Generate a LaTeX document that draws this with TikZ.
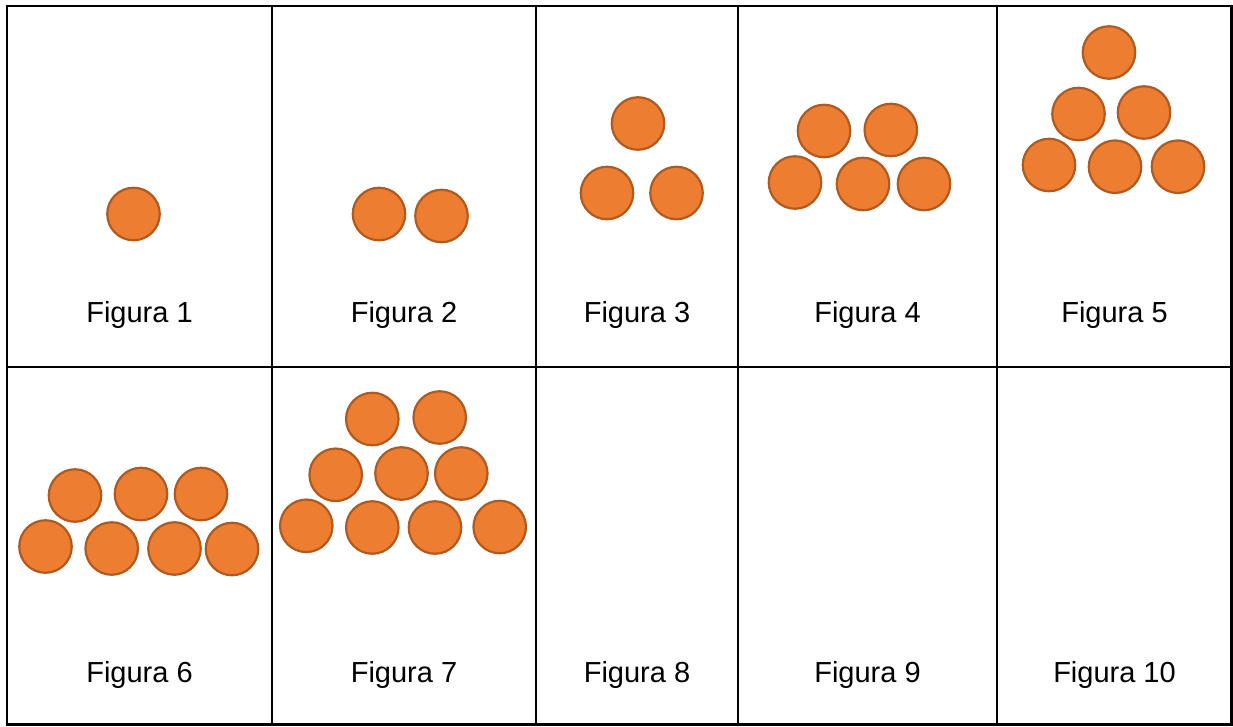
\documentclass[tikz,border=0pt]{standalone}
\usepackage{fontspec}
\setmainfont{Liberation Sans}
\definecolor{ballfill}{HTML}{ED7D31}
\definecolor{ballline}{HTML}{AE5A21}
\tikzset{
  ball/.style={circle, draw=ballline, fill=ballfill, line width=2.2pt, minimum size=52.5pt, inner sep=0pt},
  grid/.style={draw=black, line width=2.2pt},
  lbl/.style={anchor=base, inner sep=0pt, font=\fontsize{29}{34}\selectfont}
}
\begin{document}
\begin{tikzpicture}[x=1pt,y=-1pt]
\useasboundingbox (0,0) rectangle (1233,726);
% grid
\draw[grid] (7,6) rectangle (1231.5,724.5);
\draw[grid] (7,367) -- (1231.5,367);
\foreach \cx in {272,536,738,997} \draw[grid] (\cx,6) -- (\cx,724.5);
% labels
\node[lbl] (l1) at (139.5,322) {Figura 1};
\node[lbl] (l2) at (404,322) {Figura 2};
\node[lbl] (l3) at (637,322) {Figura 3};
\node[lbl] (l4) at (867.5,322) {Figura 4};
\node[lbl] (l5) at (1114.5,322) {Figura 5};
\node[lbl] (l6) at (139.5,682) {Figura 6};
\node[lbl] (l7) at (404,682) {Figura 7};
\node[lbl] (l8) at (637,682) {Figura 8};
\node[lbl] (l9) at (867.5,682) {Figura 9};
\node[lbl] (l10) at (1114.5,682) {Figura 10};
% Figura 1
\node[ball] (a1) at (133.5,214) {};
% Figura 2
\node[ball] (b1) at (379,214) {};
\node[ball] (b2) at (441.5,216) {};
% Figura 3
\node[ball] (c1) at (638,123.5) {};
\node[ball] (c2) at (607,193) {};
\node[ball] (c3) at (676.5,193) {};
% Figura 4
\node[ball] (d1) at (824,131) {};
\node[ball] (d2) at (890.8,130) {};
\node[ball] (d3) at (795,182.5) {};
\node[ball] (d4) at (863,184) {};
\node[ball] (d5) at (924,184) {};
% Figura 5
\node[ball] (e1) at (1109,52.5) {};
\node[ball] (e2) at (1078.5,114) {};
\node[ball] (e3) at (1144,112.5) {};
\node[ball] (e4) at (1049,165) {};
\node[ball] (e5) at (1115,166.7) {};
\node[ball] (e6) at (1178,166.7) {};
% Figura 6
\node[ball] (f1) at (75,495.5) {};
\node[ball] (f2) at (141,494) {};
\node[ball] (f3) at (201,494) {};
\node[ball] (f4) at (45.5,546.5) {};
\node[ball] (f5) at (111.7,548.5) {};
\node[ball] (f6) at (174.5,548.5) {};
\node[ball] (f7) at (232,549) {};
% Figura 7
\node[ball] (g1) at (372.3,419) {};
\node[ball] (g2) at (439.7,417.5) {};
\node[ball] (g3) at (335.7,474.8) {};
\node[ball] (g4) at (401.5,473.5) {};
\node[ball] (g5) at (461.3,473.5) {};
\node[ball] (g6) at (306.3,525.8) {};
\node[ball] (g7) at (372.3,527.5) {};
\node[ball] (g8) at (435,527.5) {};
\node[ball] (g9) at (499.7,527) {};
\end{tikzpicture}
\end{document}
